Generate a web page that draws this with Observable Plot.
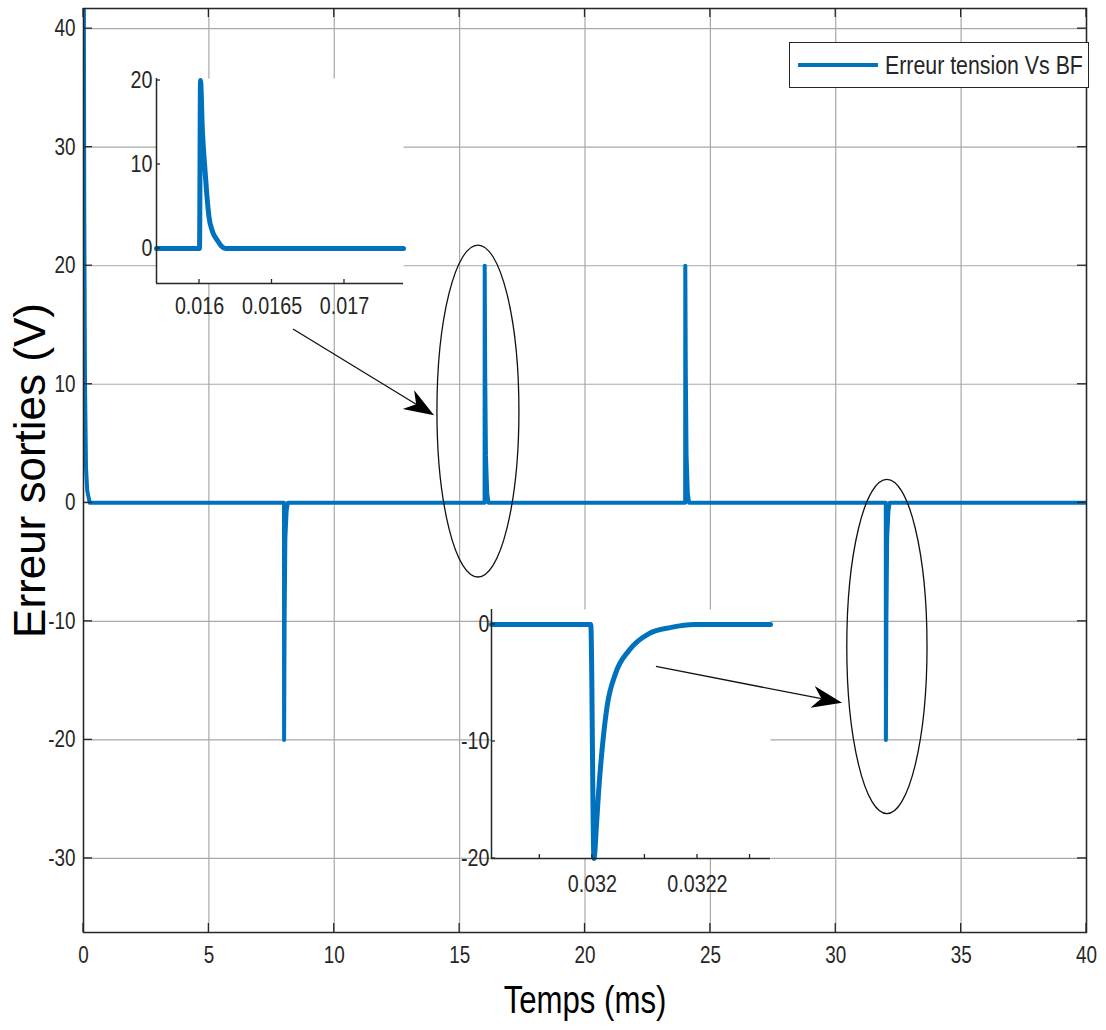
<!DOCTYPE html>
<html><head><meta charset="utf-8">
<script src="https://cdn.jsdelivr.net/npm/d3@7"></script>
<script src="https://cdn.jsdelivr.net/npm/@observablehq/plot@0.6"></script>
<style>
body{margin:0;background:#fff;}
#chart{position:relative;width:1106px;height:1030px;overflow:hidden;}
#chart > svg{position:absolute;}
#legend{position:absolute;left:789px;top:42px;width:298px;height:44px;border:1.3px solid #262626;background:#fff;
  font-family:"Liberation Sans",Arial,sans-serif;font-size:26px;color:#262626;display:flex;align-items:center;white-space:nowrap;}
#legend .sw{display:inline-block;width:80px;height:4px;background:#0072BD;margin-left:8px;margin-right:7px;flex:none;}
#legend .tx{display:inline-block;transform:scaleX(0.82);transform-origin:left center;}
</style></head><body><div id="chart"></div>
<script>
const FONT = '"Liberation Sans",Arial,sans-serif';
const CONDENSE = 0.82;

// ---- data (main plot, time in ms) ----
const mainT = [0, 0.03, 0.06, 0.1, 0.15, 0.25,
  7.995, 8.0, 8.02, 8.05, 8.1, 8.15,
  15.995, 16.0, 16.02, 16.05, 16.1, 16.15,
  23.995, 24.0, 24.02, 24.05, 24.1, 24.15,
  31.995, 32.0, 32.02, 32.05, 32.1, 32.15, 40];
const mainV = [60, 25, 10, 3, 1, 0,
  0, -20, -10, -3, -0.7, 0,
  0, 20, 11, 4, 0.8, 0,
  0, 20, 11, 4, 0.8, 0,
  0, -20, -10, -3, -0.7, 0, 0];

// ---- inset 1 (time in s) ----
const inset1T = [0.0157034, 0.016, 0.016007, 0.01602, 0.016035, 0.01605, 0.016065, 0.01609, 0.016122, 0.01615, 0.01618, 0.017407];
const inset1V = [0, 0, 20, 14, 10, 6.5, 3.8, 2, 1, 0.3, 0, 0];

// ---- inset 2 (time in s) ----
const inset2T = [0.031808, 0.031997, 0.032003, 0.032008, 0.032012, 0.03202, 0.032028, 0.032044, 0.03207, 0.032107, 0.03215, 0.032194, 0.032339];
const inset2V = [0, 0, -20, -17, -14.2, -10, -7, -4.2, -2.2, -0.8, -0.25, 0, 0];

// ---- ticks ----
const xTicks = [0, 5, 10, 15, 20, 25, 30, 35, 40];
const yTicks = [-30, -20, -10, 0, 10, 20, 30, 40];
const inset1XTicks = [0.016, 0.0165, 0.017];
const inset1YTicks = [0, 10, 20];
const inset2XTicks = [0.0319, 0.032, 0.0321, 0.0322, 0.0323];
const inset2XLabels = [0.032, 0.0322];
const inset2YTicks = [-20, -10, 0];

// ---- annotations (data coordinates of main plot) ----
const ellipses = [
  {t: 15.75, v: 7.7, rt: 1.635, rv: 14.0},
  {t: 32.06, v: -12.16, rt: 1.6, rv: 14.1}
];
const arrows = [
  {t1: 8.375, v1: 14.62, t2: 14.0, v2: 7.35},
  {t1: 22.85, v1: -13.85, t2: 30.27, v2: -16.9}
];
const xLabel = "Temps (ms)";
const yLabel = "Erreur sorties (V)";
const legendLabel = "Erreur tension Vs BF";

const BLUE = "#0072BD";
const AX = "#262626";
const mainX = [0, 40], mainY = [-36.25, 41.7];
const mainDims = {width: 1106, height: 1030, marginTop: 8, marginRight: 20, marginBottom: 98, marginLeft: 83};

function inwardTicks(xt, yt, len, allSides) {
  return (index, scales, values, dim) => {
    const {x, y} = scales;
    const L = dim.marginLeft, R = dim.width - dim.marginRight, T = dim.marginTop, B = dim.height - dim.marginBottom;
    const g = d3.create("svg:g").attr("stroke", AX).attr("stroke-width", 1.3);
    for (const t of xt) {
      const px = x(t);
      g.append("line").attr("x1", px).attr("x2", px).attr("y1", B).attr("y2", B - len);
      if (allSides) g.append("line").attr("x1", px).attr("x2", px).attr("y1", T).attr("y2", T + len);
    }
    for (const v of yt) {
      const py = y(v);
      g.append("line").attr("x1", L).attr("x2", L + len).attr("y1", py).attr("y2", py);
      if (allSides) g.append("line").attr("x1", R).attr("x2", R - len).attr("y1", py).attr("y2", py);
    }
    return g.node();
  };
}

const ellipseMark = (index, {x, y}) => {
  const g = d3.create("svg:g").attr("fill", "none").attr("stroke", "#111").attr("stroke-width", 1.3);
  for (const e of ellipses) {
    g.append("ellipse")
      .attr("cx", x(e.t)).attr("cy", y(e.v))
      .attr("rx", Math.abs(x(e.t + e.rt) - x(e.t)))
      .attr("ry", Math.abs(y(e.v + e.rv) - y(e.v)));
  }
  return g.node();
};

const arrowMark = (index, {x, y}) => {
  const g = d3.create("svg:g");
  const Lh = 30, Wh = 11, N = 21;
  for (const a of arrows) {
    const x1 = x(a.t1), y1 = y(a.v1), x2 = x(a.t2), y2 = y(a.v2);
    const ang = Math.atan2(y2 - y1, x2 - x1), c = Math.cos(ang), s = Math.sin(ang);
    const nx = x2 - N * c, ny = y2 - N * s;
    g.append("line").attr("x1", x1).attr("y1", y1).attr("x2", nx).attr("y2", ny)
      .attr("stroke", "#111").attr("stroke-width", 1.3);
    const bx = x2 - Lh * c, by = y2 - Lh * s;
    const p = [[x2, y2], [bx - Wh * s, by + Wh * c], [nx, ny], [bx + Wh * s, by - Wh * c]];
    g.append("path").attr("d", "M" + p.map(q => q.join(",")).join("L") + "Z").attr("fill", "#000");
  }
  return g.node();
};

const mainData = mainT.map((t, i) => ({t, v: mainV[i]}));
const main = Plot.plot({
  ...mainDims,
  style: {fontFamily: FONT, fontSize: "23px", color: AX, background: "white"},
  x: {domain: mainX, ticks: xTicks, tickSize: 0, tickPadding: 14, label: null, tickFormat: d => String(d)},
  y: {domain: mainY, ticks: yTicks, tickSize: 0, tickPadding: 8, label: null, tickFormat: d => String(d)},
  marks: [
    Plot.ruleX(xTicks, {stroke: "#a8a8a8", strokeWidth: 1.2}),
    Plot.ruleY(yTicks, {stroke: "#a8a8a8", strokeWidth: 1.2}),
    Plot.line(mainData, {x: "t", y: "v", stroke: BLUE, strokeWidth: 4, clip: true}),
    Plot.frame({stroke: AX, strokeWidth: 1.5}),
    inwardTicks(xTicks, yTicks, 9, true),
    Plot.text([xLabel], {frameAnchor: "bottom", dy: 68, lineAnchor: "middle", textAnchor: "middle", fontSize: 38, fill: "#000"}),
    Plot.text([yLabel], {frameAnchor: "left", dx: -53, rotate: -90, textAnchor: "middle", lineAnchor: "middle", fontSize: 44, fill: "#000"})
  ]
});
main.style.left = "0px"; main.style.top = "0px";

const d1 = inset1T.map((t, i) => ({t, v: inset1V[i]}));
const x1Dom = [0.0157034, 0.017407], y1Dom = [-4.17, 20.24];
const inset1 = Plot.plot({
  width: 302, height: 250, marginLeft: 50, marginRight: 5, marginTop: 5, marginBottom: 40,
  style: {fontFamily: FONT, fontSize: "24px", color: AX, background: "transparent", overflow: "visible"},
  x: {domain: x1Dom, ticks: inset1XTicks, tickSize: 0, tickPadding: 13, label: null, tickFormat: d => String(d)},
  y: {domain: y1Dom, ticks: inset1YTicks, tickSize: 0, tickPadding: 4, label: null, tickFormat: d => String(d)},
  marks: [
    Plot.frame({fill: "white"}),
    Plot.line(d1, {x: "t", y: "v", stroke: BLUE, strokeWidth: 5, curve: "monotone-x"}),
    Plot.ruleX([x1Dom[0]], {stroke: AX, strokeWidth: 1.5}),
    Plot.ruleY([y1Dom[0]], {stroke: AX, strokeWidth: 1.5}),
    inwardTicks(inset1XTicks, inset1YTicks, 4, false)
  ]
});
inset1.style.left = "106px"; inset1.style.top = "73px";

const d2 = inset2T.map((t, i) => ({t, v: inset2V[i]}));
const x2Dom = [0.031808, 0.032339], y2Dom = [-20, 1.28];
const inset2 = Plot.plot({
  width: 334, height: 299, marginLeft: 50, marginRight: 5, marginTop: 5, marginBottom: 45,
  style: {fontFamily: FONT, fontSize: "24px", color: AX, background: "transparent", overflow: "visible"},
  x: {domain: x2Dom, ticks: inset2XLabels, tickSize: 0, tickPadding: 16, label: null, tickFormat: d => String(d)},
  y: {domain: y2Dom, ticks: inset2YTicks, tickSize: 0, tickPadding: 2, label: null, tickFormat: d => String(d)},
  marks: [
    Plot.frame({fill: "white"}),
    Plot.line(d2, {x: "t", y: "v", stroke: BLUE, strokeWidth: 5, curve: "monotone-x"}),
    Plot.ruleX([x2Dom[0]], {stroke: AX, strokeWidth: 1.5}),
    Plot.ruleY([y2Dom[0]], {stroke: AX, strokeWidth: 1.5}),
    inwardTicks(inset2XTicks, inset2YTicks, 4, false)
  ]
});
inset2.style.left = "441px"; inset2.style.top = "604px";

// annotation overlay sharing the main plot's scales
const overlay = Plot.plot({
  ...mainDims,
  style: {background: "transparent", overflow: "visible"},
  x: {domain: mainX, axis: null},
  y: {domain: mainY, axis: null},
  marks: [ellipseMark, arrowMark]
});
overlay.style.left = "0px"; overlay.style.top = "0px";

const chart = document.getElementById("chart");
chart.appendChild(main);
chart.appendChild(inset1);
chart.appendChild(inset2);
chart.appendChild(overlay);
const leg = document.createElement("div");
leg.id = "legend";
leg.innerHTML = '<span class="sw"></span><span class="tx"></span>';
leg.lastChild.textContent = legendLabel;
chart.appendChild(leg);

// condense horizontal texts to mimic the narrow typeface of the original
for (const svg of [main, inset1, inset2]) {
  svg.querySelectorAll("text").forEach(t => {
    const tr = (t.getAttribute("transform") || "") + (t.parentNode.getAttribute && (t.parentNode.getAttribute("transform") || ""));
    if (tr.includes("rotate")) return;
    const w = t.getComputedTextLength();
    if (w > 0) {
      t.setAttribute("textLength", (w * CONDENSE).toFixed(2));
      t.setAttribute("lengthAdjust", "spacingAndGlyphs");
    }
  });
}
</script>
</body></html>
